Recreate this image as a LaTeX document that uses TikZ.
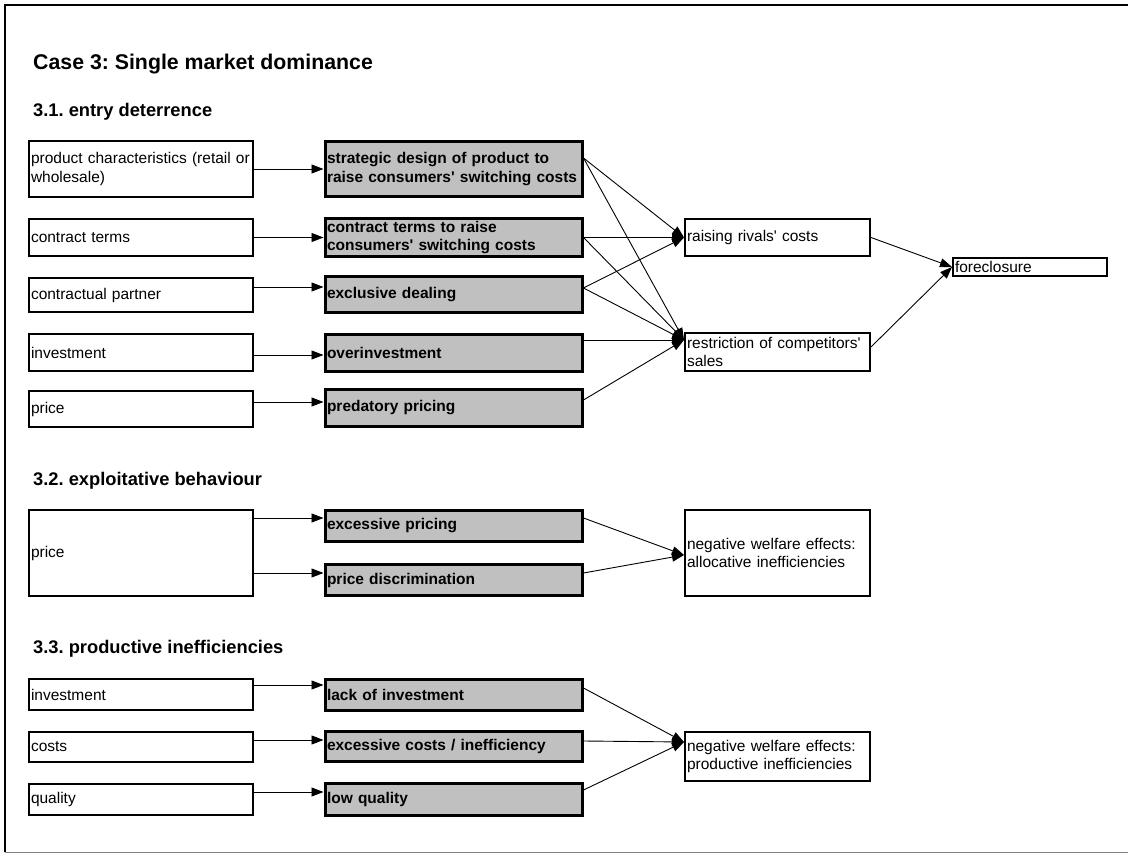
\documentclass[tikz,border=0pt]{standalone}
\usepackage{fontspec}
\setmainfont{Liberation Sans}
\usetikzlibrary{arrows.meta}
\definecolor{boxgray}{RGB}{192,192,192}
\newcommand{\q}{\textquotesingle}
\frenchspacing
\tikzset{
  every node/.style={font=\fontsize{15.5}{18.5}\selectfont, inner xsep=2pt, inner ysep=0pt, align=left},
  inbox/.style={draw, line width=2pt, text width=220pt, minimum height=#1},
  actbox/.style={draw, line width=3pt, fill=boxgray, text width=253pt, minimum height=#1, font=\fontsize{15.5}{18.5}\selectfont\bfseries},
  effbox/.style={draw, line width=2pt, text width=181pt, minimum height=#1},
  head/.style={anchor=base west, inner sep=0pt, font=\fontsize{18.3}{21}\selectfont\bfseries},
  link/.style={->, line width=0.9pt}
}
\begin{document}
\begin{tikzpicture}[x=1pt,y=-1pt,>={Triangle[length=12pt,width=9pt]}]
\useasboundingbox (0,0) rectangle (1128,853);
\draw[line width=2.5pt] (1128,5)--(5,5)--(5,852);
\draw[gray, line width=1pt] (5,852.5)--(1128,852.5);

\node[head, font=\fontsize{21.3}{25}\selectfont\bfseries] (title) at (33,70) {Case 3: Single market dominance};
\node[head] (h31) at (33,117) {3.1. entry deterrence};
\node[head] (h32) at (33,485) {3.2. exploitative behaviour};
\node[head] (h33) at (33,653) {3.3. productive inefficiencies};

\node[inbox=56pt] (l1) at (141,169) {product characteristics (retail or\\wholesale)};
\node[inbox=37pt] (l2) at (141,237.5) {contract terms};
\node[inbox=34pt] (l3) at (141,295) {contractual partner};
\node[inbox=37pt] (l4) at (141,352.5) {investment};
\node[inbox=36pt] (l5) at (141,409) {price};
\node[inbox=86pt] (l6) at (141,553) {price};
\node[inbox=31pt] (l7) at (141,694.5) {investment};
\node[inbox=30pt] (l8) at (141,747) {costs};
\node[inbox=31pt] (l9) at (141,799.5) {quality};

\node[actbox=55pt] (g1) at (453.5,169) {strategic design of product to\\raise consumers\q{} switching costs};
\node[actbox=38pt] (g2) at (453.5,237.5) {contract terms to raise\\consumers\q{} switching costs};
\node[actbox=36pt] (g3) at (453.5,294.5) {exclusive dealing};
\node[actbox=37pt] (g4) at (453.5,353) {overinvestment};
\node[actbox=37pt] (g5) at (453.5,408) {predatory pricing};
\node[actbox=31pt] (g6) at (453.5,526) {excessive pricing};
\node[actbox=31pt] (g7) at (453.5,580) {price discrimination};
\node[actbox=31pt] (g8) at (453.5,695) {lack of investment};
\node[actbox=30pt] (g9) at (453.5,746.5) {excessive costs / inefficiency};
\node[actbox=32pt] (g10) at (453.5,799.5) {low quality};

\node[effbox=37pt] (m1) at (777.5,237.5) {raising rivals\q{} costs};
\node[effbox=38pt] (m2) at (777.5,352) {restriction of competitors\q\\sales};
\node[effbox=86pt] (m3) at (777.5,553) {negative welfare effects:\\allocative inefficiencies};
\node[effbox=49pt] (m4) at (777.5,756.5) {negative welfare effects:\\productive inefficiencies};
\node[draw, line width=2pt, text width=150pt, minimum height=18pt] (fc) at (1030,267) {foreclosure};

\draw[link] (l1) -- (g1);
\draw[link] (l2) -- (g2);
\draw[link] ([yshift=8pt]l3.east) -- ([yshift=7.5pt]g3.west);
\draw[link] ([yshift=-2.5pt]l4.east) -- ([yshift=-2pt]g4.west);
\draw[link] ([yshift=7pt]l5.east) -- ([yshift=6pt]g5.west);
\draw[link] ([yshift=35pt]l6.east) -- ([yshift=8pt]g6.west);
\draw[link] ([yshift=-20pt]l6.east) -- ([yshift=7pt]g7.west);
\draw[link] ([yshift=9.5pt]l7.east) -- ([yshift=10pt]g8.west);
\draw[link] ([yshift=7pt]l8.east) -- ([yshift=6.5pt]g9.west);
\draw[link] ([yshift=7.5pt]l9.east) -- ([yshift=7.5pt]g10.west);

\draw[link] ([yshift=11pt]g1.east) -- (m1.west);
\draw[link] ([yshift=11pt]g1.east) -- ([yshift=12pt]m2.west);
\draw[link] (g2.east) -- (m1.west);
\draw[link] (g2.east) -- ([yshift=12pt]m2.west);
\draw[link] ([yshift=6.5pt]g3.east) -- (m1.west);
\draw[link] ([yshift=6.5pt]g3.east) -- ([yshift=12pt]m2.west);
\draw[link] ([yshift=13pt]g4.east) -- ([yshift=12pt]m2.west);
\draw[link] ([yshift=8pt]g5.east) -- ([yshift=12pt]m2.west);
\draw[link] (m1.east) -- (fc.west);
\draw[link] ([yshift=5pt]m2.east) -- (fc.west);

\draw[link] ([yshift=8pt]g6.east) -- ([yshift=-2pt]m3.west);
\draw[link] ([yshift=7pt]g7.east) -- ([yshift=-2pt]m3.west);

\draw[link] ([yshift=7pt]g8.east) -- ([yshift=14.5pt]m4.west);
\draw[link] ([yshift=5.5pt]g9.east) -- ([yshift=14.5pt]m4.west);
\draw[link] ([yshift=9.5pt]g10.east) -- ([yshift=14.5pt]m4.west);
\end{tikzpicture}
\end{document}
